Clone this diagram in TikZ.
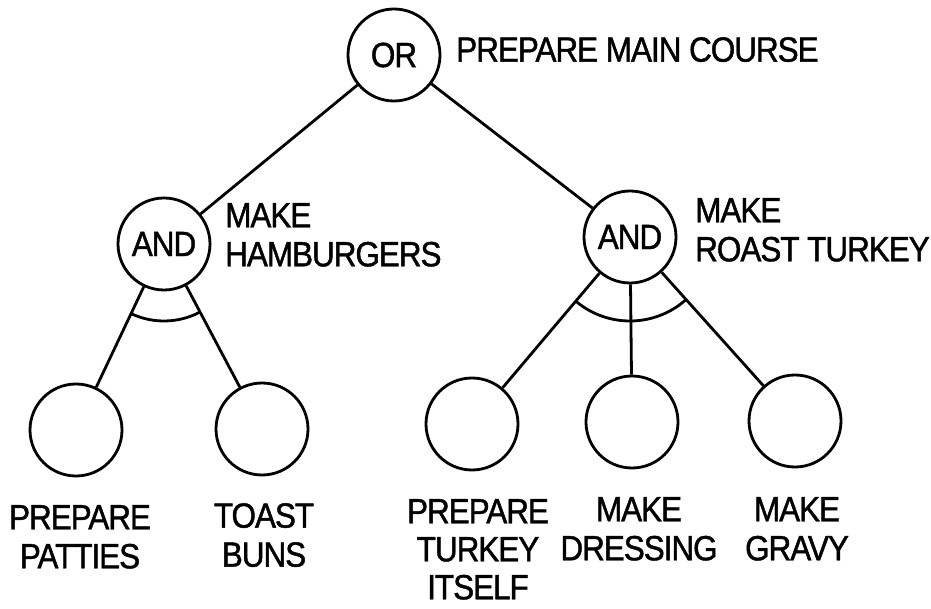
\documentclass[tikz,border=0pt]{standalone}
\usepackage{fontspec}
\setmainfont[FakeStretch=0.9, LetterSpace=-3, FakeBold=1.2]{Liberation Sans}
\begin{document}
\begin{tikzpicture}[
    x=1pt, y=1pt,
    goal/.style={circle, draw, line width=2.8pt, minimum size=92pt,
                 inner sep=0pt, font=\fontsize{35}{39}\selectfont},
    link/.style={line width=2.8pt},
    note/.style={font=\fontsize{35}{39}\selectfont, inner sep=0pt},
]
    \useasboundingbox (0,0) rectangle (931,608);

    \node[goal] (course) at (394,553) {OR};
    \node[goal] (burger) at (164,364) {AND};
    \node[goal] (turkey) at (630,371) {AND};
    \node[goal] (patties) at (76,178) {};
    \node[goal] (buns) at (262,179) {};
    \node[goal] (bird) at (472,184) {};
    \node[goal] (dressing) at (632,186) {};
    \node[goal] (gravy) at (795,187) {};

    \node[note, anchor=north west] (courselbl) at (456,571) {PREPARE MAIN COURSE};
    \node[note, anchor=north west, align=left] (burgerlbl) at (225,405) {MAKE\\HAMBURGERS};
    \node[note, anchor=north west, align=left] (turkeylbl) at (695,410) {MAKE\\ROAST TURKEY};
    \node[note, anchor=north, align=center] (pattieslbl) at (80,103) {PREPARE\\PATTIES};
    \node[note, anchor=north, align=center] (bunslbl) at (264,105) {TOAST\\BUNS};
    \node[note, anchor=north, align=center, font=\fontsize{35}{38}\selectfont]
        (birdlbl) at (478,109) {PREPARE\\TURKEY\\ITSELF};
    \node[note, anchor=north, align=center] (dressinglbl) at (639,111) {MAKE\\DRESSING};
    \node[note, anchor=north, align=center] (gravylbl) at (797,111) {MAKE\\GRAVY};

    \draw[link] (course) -- (burger);
    \draw[link] (course) -- (turkey);
    \draw[link] (burger) -- (patties);
    \draw[link] (burger) -- (buns);
    \draw[link] (turkey) -- (bird);
    \draw[link] (turkey) -- (dressing);
    \draw[link] (turkey) -- (gravy);

    % and-arcs
    \draw[link] (burger) ++(245:77) arc[start angle=245, end angle=298, radius=77];
    \draw[link] (turkey) ++(230:84) arc[start angle=230, end angle=312, radius=84];

\end{tikzpicture}
\end{document}
